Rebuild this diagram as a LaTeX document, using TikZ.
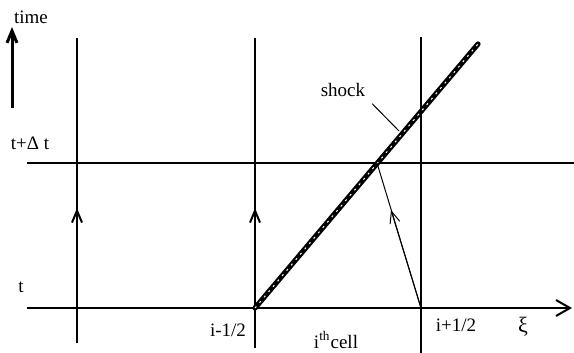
\documentclass[tikz,border=0pt]{standalone}
\usepackage{fontspec}
\setmainfont{Liberation Serif}
\usetikzlibrary{arrows.meta}

\begin{document}
\begin{tikzpicture}[x=0.5pt,y=-0.5pt,font=\fontsize{9.5}{11}\selectfont,
  grid/.style={line width=1pt},
  ray/.style={line width=0.5pt},
  upbarb/.style={-{Straight Barb[length=6pt,width=5pt]}}]
\useasboundingbox (0,0) rectangle (574,353);
% time levels
\coordinate (xs) at (27,308);
\coordinate (xe) at (572,308);
\coordinate (us) at (27,163);
\coordinate (ue) at (574,163);
\draw[grid,-{Straight Barb[length=7pt,width=8pt]}] (xs) -- (xe);
\draw[grid] (us) -- (ue);
% cell faces
\coordinate (a0) at (77,343);  \coordinate (a1) at (77,38);
\coordinate (b0) at (255,348); \coordinate (b1) at (255,38);
\coordinate (c0) at (421,353); \coordinate (c1) at (421,37);
\coordinate (ab) at (77,308);  \coordinate (am) at (77,208);
\coordinate (bb) at (255,308); \coordinate (bm) at (255,208);
\draw[grid] (a0) -- (a1);
\draw[grid] (b0) -- (b1);
\draw[grid] (c0) -- (c1);
\draw[grid,upbarb] (ab) -- (am);
\draw[grid,upbarb] (bb) -- (bm);
% time arrow
\coordinate (t0) at (12,108);
\coordinate (t1) at (12,27);
\draw[line width=1.5pt,-{Straight Barb[length=6pt,width=5pt]}] (t0) -- (t1);
\node (time) at (31,17) {time};
% shock
\coordinate (s0) at (255,308);
\coordinate (s1) at (478,44);
\draw[line width=2.6pt,line cap=round] (s0) -- (s1);
\draw[white,line width=0.5pt,dash pattern=on 1pt off 2.5pt] (s0) -- (s1);
\node (shk) at (343,90) {shock};
\coordinate (l1) at (399,131);
\draw[ray] (shk.south east) -- (l1);
% characteristic back to the face
\coordinate (cb) at (421,308);
\coordinate (sx) at (377,163);
\coordinate (cm) at (391,210);
\draw[ray] (cb) -- (sx);
\draw[ray,upbarb] (cb) -- (cm);
% labels
\node (tdt) at (30,143) {t+Δ t};
\node (tn) at (21,287) {t};
\node (im) at (228,330) {i-1/2};
\node (ip) at (456,325) {i+1/2};
\node (xi) at (523,327) {\fontsize{11}{12}\selectfont ξ};
\node (cell) at (336,340) {i\textsuperscript{th}cell};
\end{tikzpicture}
\end{document}
